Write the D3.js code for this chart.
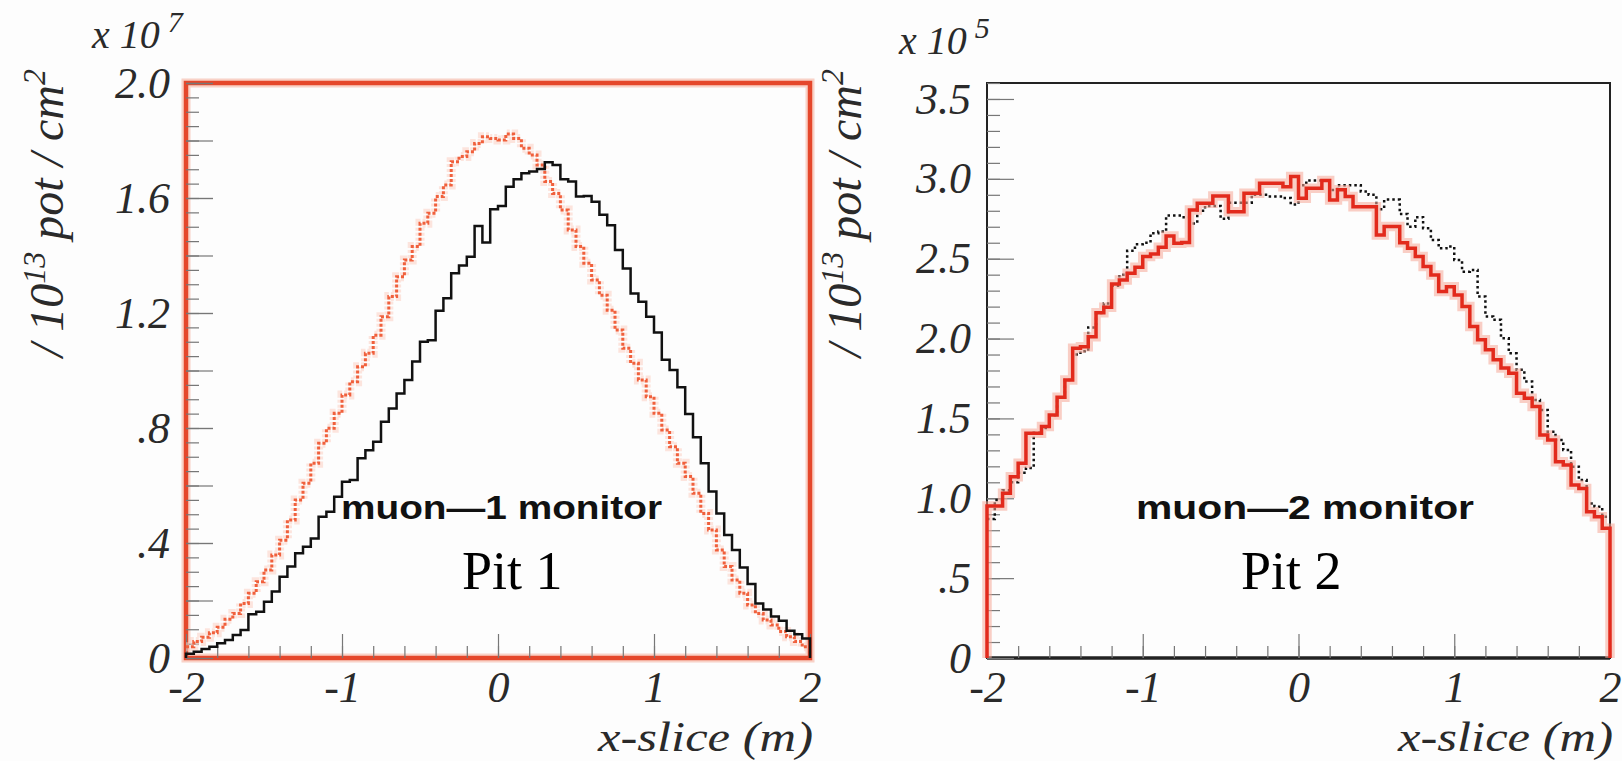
<!DOCTYPE html>
<html lang="en">
<head>
<meta charset="utf-8">
<title>muon monitors</title>
<style>
body { margin: 0; background: #fdfdfd; }
svg { display: block; }
.tick text { font-family: "Liberation Serif", serif; font-style: italic; font-size: 44px; fill: #2a2a2a; }
.tick line { stroke: #777; stroke-width: 1.2; }
.lbl { font-family: "Liberation Serif", serif; font-style: italic; fill: #2a2a2a; }
</style>
</head>
<body>
<script src="https://cdn.jsdelivr.net/npm/d3@7"></script>
<script>

// histograms: 80 bins of 0.05 m between -2 and 2
var xMin = -2, xMax = 2, nBins = 80;

// pit 1 (units of 1e7)
var pit1Black = [0.015,0.022,0.031,0.039,0.051,0.063,0.080,0.097,0.152,0.161,
  0.196,0.231,0.283,0.318,0.364,0.387,0.416,0.491,0.509,0.561,
  0.613,0.619,0.695,0.723,0.752,0.822,0.868,0.920,0.967,1.031,
  1.100,1.105,1.208,1.251,1.338,1.365,1.396,1.503,1.445,1.561,
  1.572,1.639,1.665,1.686,1.692,1.701,1.724,1.715,1.665,1.657,
  1.605,1.607,1.587,1.542,1.505,1.419,1.355,1.268,1.239,1.187,
  1.132,1.037,1.002,0.942,0.849,0.768,0.677,0.579,0.503,0.428,
  0.376,0.315,0.257,0.190,0.169,0.144,0.130,0.095,0.083,0.068];
var pit1Red = [0.039,0.057,0.072,0.088,0.107,0.135,0.155,0.190,0.225,0.265,
  0.306,0.358,0.410,0.480,0.550,0.608,0.677,0.747,0.799,0.851,
  0.915,0.961,1.013,1.060,1.123,1.187,1.257,1.326,1.384,1.431,
  1.512,1.547,1.605,1.645,1.726,1.744,1.761,1.790,1.813,1.807,
  1.802,1.823,1.807,1.773,1.750,1.715,1.657,1.616,1.558,1.489,
  1.431,1.373,1.315,1.262,1.210,1.141,1.077,1.025,0.967,0.909,
  0.851,0.793,0.735,0.677,0.631,0.573,0.503,0.445,0.376,0.318,
  0.271,0.225,0.184,0.155,0.132,0.115,0.092,0.074,0.057,0.039];

// pit 2 (units of 1e5)
var pit2Red = [0.952,0.952,1.031,1.135,1.219,1.407,1.407,1.449,1.522,1.632,
  1.741,1.939,1.949,2.012,2.162,2.196,2.342,2.367,2.409,2.446,
  2.513,2.530,2.572,2.642,2.597,2.601,2.805,2.847,2.847,2.893,
  2.893,2.794,2.794,2.910,2.910,2.972,2.972,2.972,2.950,3.014,
  2.878,2.941,2.941,2.989,2.868,2.931,2.889,2.826,2.826,2.826,
  2.649,2.701,2.701,2.600,2.565,2.513,2.451,2.398,2.294,2.325,
  2.273,2.201,2.075,1.992,1.930,1.867,1.815,1.783,1.657,1.626,
  1.574,1.396,1.365,1.229,1.208,1.083,1.062,0.916,0.885,0.812];
var pit2Black = [0.87,0.99,1.05,1.10,1.16,1.19,1.41,1.44,1.52,1.63,
  1.74,1.90,1.92,2.07,2.16,2.22,2.33,2.40,2.55,2.59,
  2.60,2.66,2.67,2.77,2.77,2.76,2.72,2.80,2.83,2.83,
  2.75,2.85,2.85,2.85,2.90,2.90,2.89,2.89,2.88,2.84,
  2.96,2.99,2.99,2.99,2.93,2.96,2.96,2.96,2.92,2.90,
  2.81,2.87,2.87,2.78,2.70,2.76,2.69,2.617,2.565,2.576,
  2.492,2.419,2.430,2.263,2.138,2.117,2.002,1.908,1.804,1.731,
  1.616,1.553,1.417,1.365,1.302,1.198,1.114,0.968,0.947,0.885];

var xTicks = [-2, -1, 0, 1, 2];
var xTickLabels = ["-2", "-1", "0", "1", "2"];
var y1Ticks = [0, 0.4, 0.8, 1.2, 1.6, 2.0];
var y1TickLabels = ["0", ".4", ".8", "1.2", "1.6", "2.0"];
var y2Ticks = [0, 0.5, 1.0, 1.5, 2.0, 2.5, 3.0, 3.5];
var y2TickLabels = ["0", ".5", "1.0", "1.5", "2.0", "2.5", "3.0", "3.5"];

var W = 1622, H = 761;
var svg = d3.select("body").append("svg")
  .attr("width", W)
  .attr("height", H);

svg.append("rect").attr("width", W).attr("height", H).attr("fill", "#fdfdfd");

// turn bin contents into points for a step line
function steps(vals, closeEnds){
  var bw = (xMax - xMin) / nBins;
  var pts = [];
  if (closeEnds) pts.push([xMin, 0]);
  vals.forEach(function(v, i){ pts.push([xMin + i * bw, v]); });
  pts.push([xMax, vals[vals.length - 1]]);
  if (closeEnds) pts.push([xMax, 0]);
  return pts;
}

function drawPanel(p){
  var x = d3.scaleLinear().domain([xMin, xMax]).range([p.left, p.right]);
  var y = d3.scaleLinear().domain([0, p.yMax]).range([p.bottom, p.top]);
  var g = svg.append("g");

  // frame
  if (p.red) {
    g.append("rect")
      .attr("x", p.left).attr("y", p.top)
      .attr("width", p.right - p.left).attr("height", p.bottom - p.top)
      .attr("fill", "none").attr("stroke", "#f6b6a4").attr("stroke-width", 9).attr("opacity", 0.6);
    g.append("rect")
      .attr("x", p.left).attr("y", p.top)
      .attr("width", p.right - p.left).attr("height", p.bottom - p.top)
      .attr("fill", "none").attr("stroke", "#e5472b").attr("stroke-width", 4.5);
  } else {
    g.append("rect")
      .attr("x", p.left).attr("y", p.top)
      .attr("width", p.right - p.left).attr("height", p.bottom - p.top)
      .attr("fill", "none").attr("stroke", "#222").attr("stroke-width", 2);
    g.append("line")
      .attr("x1", p.left).attr("x2", p.right)
      .attr("y1", p.bottom).attr("y2", p.bottom)
      .attr("stroke", "#222").attr("stroke-width", 3.5);
  }

  // y axis: labelled, long and short ticks, all inside the frame
  var yAx = g.append("g").attr("transform", "translate(" + p.left + ",0)");
  yAx.append("g").call(d3.axisLeft(y).tickValues(p.yMinor).tickSize(-13).tickFormat(""));
  yAx.append("g").call(d3.axisLeft(y).tickValues(p.yMid).tickSize(-27).tickFormat(""));
  yAx.append("g").call(d3.axisLeft(y).tickValues(p.yTicks).tickSize(-27).tickPadding(16)
    .tickFormat(function(d, i){ return p.yLabels[i]; }));
  yAx.selectAll(".domain").remove();

  var xAx = g.append("g").attr("transform", "translate(0," + p.bottom + ")");
  xAx.append("g").call(d3.axisBottom(x).tickValues(d3.range(-2, 2.001, 0.2)).tickSize(-12).tickFormat(""));
  xAx.append("g").call(d3.axisBottom(x).tickValues(xTicks).tickSize(-24).tickPadding(13)
    .tickFormat(function(d, i){ return xTickLabels[i]; }));
  xAx.selectAll(".domain").remove();

  var line = d3.line()
    .x(function(d){ return x(d[0]); })
    .y(function(d){ return y(d[1]); })
    .curve(d3.curveStepAfter);

  p.series.forEach(function(s){
    var pts = steps(s.values, s.closeEnds);
    if (s.glow) {
      g.append("path").attr("d", line(pts)).attr("fill", "none")
        .attr("stroke", s.glow).attr("stroke-width", s.width + 6).attr("opacity", 0.55)
        .attr("stroke-dasharray", s.dash || null);
    }
    g.append("path").attr("d", line(pts)).attr("fill", "none")
      .attr("stroke", s.color).attr("stroke-width", s.width)
      .attr("stroke-dasharray", s.dash || null);
  });

  // exponent
  var ex = svg.append("text").attr("class", "lbl")
    .attr("x", p.expX).attr("y", p.expY).attr("font-size", 40);
  ex.append("tspan").text("x 10");
  ex.append("tspan").attr("dx", 8).attr("dy", -16).attr("font-size", 30).text(p.exp);

  // y title
  var yt = svg.append("text").attr("class", "lbl")
    .attr("transform", "translate(" + p.yTitleX + "," + (p.top - 14) + ") rotate(-90)")
    .attr("text-anchor", "end").attr("font-size", 48);
  yt.append("tspan").text("/ 10");
  yt.append("tspan").attr("dy", -18).attr("font-size", 32).text("13");
  yt.append("tspan").attr("dy", 18).text(" pot / cm");
  yt.append("tspan").attr("dy", -18).attr("font-size", 32).text("2");

  // x title
  svg.append("text").attr("class", "lbl")
    .attr("x", p.right + 3).attr("y", 751)
    .attr("text-anchor", "end").attr("font-size", 43)
    .attr("textLength", 215).attr("lengthAdjust", "spacingAndGlyphs")
    .text("x-slice (m)");

  svg.append("text")
    .attr("x", p.monX).attr("y", 519)
    .attr("font-family", "'Liberation Sans', Arial, sans-serif")
    .attr("font-weight", "bold").attr("font-size", 34)
    .attr("textLength", p.monW).attr("lengthAdjust", "spacingAndGlyphs")
    .attr("fill", "#111")
    .text(p.monitor);

  svg.append("text")
    .attr("x", p.pitX).attr("y", 589)
    .attr("font-family", "'Liberation Serif', 'Times New Roman', serif")
    .attr("font-size", 54).attr("fill", "#000")
    .text(p.pit);
}

drawPanel({
  left: 186, right: 810, top: 83, bottom: 658, yMax: 2.0, red: true,
  yTicks: y1Ticks, yLabels: y1TickLabels,
  yMid: d3.range(0, 2.001, 0.2), yMinor: d3.range(0, 2.001, 0.05),
  exp: "7", expX: 92, expY: 48, yTitleX: 63,
  monitor: "muon\u20141 monitor", monX: 341, monW: 321,
  pit: "Pit 1", pitX: 462,
  series: [
    { values: pit1Red, color: "#f0603c", width: 3, dash: "3,2", glow: "#fbd0c2", closeEnds: false },
    { values: pit1Black, color: "#111", width: 2.5, closeEnds: true }
  ]
});

drawPanel({
  left: 987, right: 1610, top: 83, bottom: 658, yMax: 3.6, red: false,
  yTicks: y2Ticks, yLabels: y2TickLabels,
  yMid: [], yMinor: d3.range(0, 3.601, 0.1),
  exp: "5", expX: 899, expY: 54, yTitleX: 861,
  monitor: "muon\u20142 monitor", monX: 1136, monW: 338,
  pit: "Pit 2", pitX: 1241,
  series: [
    { values: pit2Black, color: "#111", width: 2.5, dash: "2.5,3", closeEnds: false },
    { values: pit2Red, color: "#e22a1c", width: 3.5, glow: "#f5a898", closeEnds: true }
  ]
});

</script>
</body>
</html>
